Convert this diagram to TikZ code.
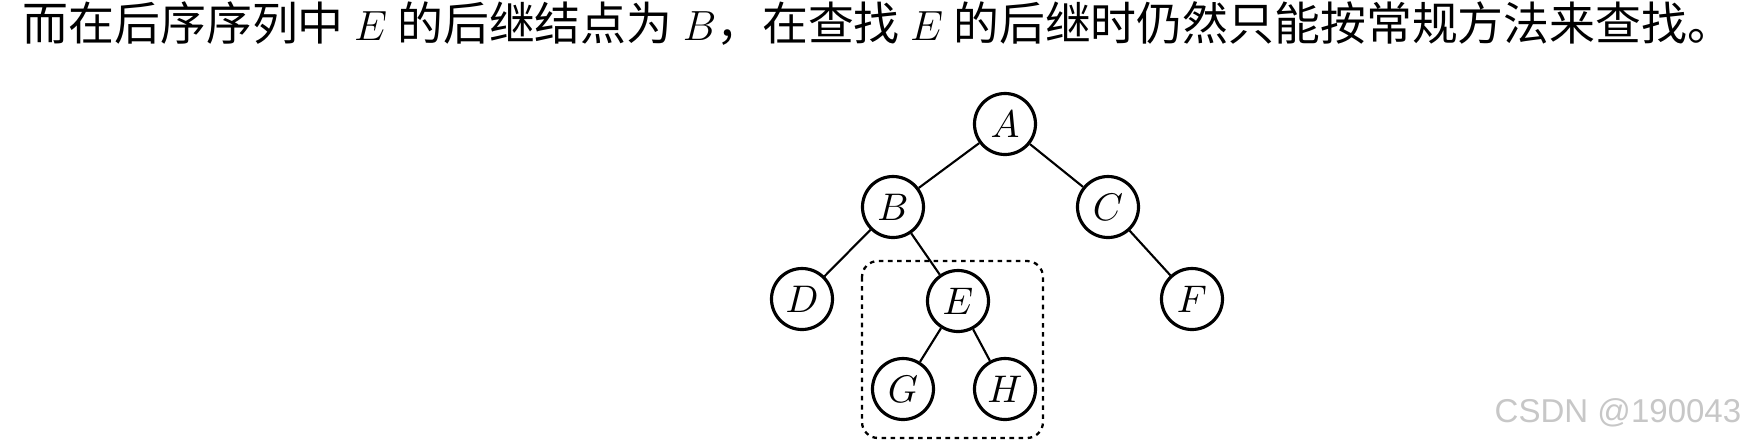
\documentclass[tikz,border=0pt]{standalone}
\usepackage{fontspec}
\newfontfamily\cjkfont{Noto Sans CJK SC}
\newfontfamily\wmfont{Liberation Sans}
\usetikzlibrary{positioning}

\begin{document}
\begin{tikzpicture}[
  vertex/.style={draw, circle, line width=0.9pt, minimum size=0.61cm, inner sep=0pt, font=\fontsize{11pt}{13pt}\selectfont},
  link/.style={semithick},
  subtree/.style={draw, rounded corners=0.16cm, line width=0.65pt, dash pattern=on 1.3pt off 1.3pt},
  caption/.style={font=\cjkfont\fontsize{13.05pt}{16pt}\selectfont, inner sep=0pt},
  wmark/.style={font=\wmfont\fontsize{9.4pt}{11pt}\selectfont, text=black!22, inner sep=0pt}
]
\useasboundingbox (0,0) rectangle (17.51,-4.41);

\node[caption, anchor=base west] (line) at (0.22,-0.40) {而在后序序列中 $E$ 的后继结点为 $B$，在查找 $E$ 的后继时仍然只能按常规方法来查找。};

% the tree
\node[vertex] (A) at (10.05,-1.24) {$A$};
\node[vertex] (B) at (8.93,-2.07) {$B$};
\node[vertex] (C) at (11.08,-2.07) {$C$};
\node[vertex] (D) at (8.02,-2.99) {$D$};
\node[vertex] (E) at (9.58,-3.01) {$E$};
\node[vertex] (F) at (11.92,-2.99) {$F$};
\node[vertex] (G) at (9.03,-3.89) {$G$};
\node[vertex] (H) at (10.05,-3.89) {$H$};

\draw[link] (A) -- (B);
\draw[link] (A) -- (C);
\draw[link] (B) -- (D);
\draw[link] (B) -- (E);
\draw[link] (C) -- (F);
\draw[link] (E) -- (G);
\draw[link] (E) -- (H);

% subtree of E
\draw[subtree] (8.62,-2.61) rectangle (10.43,-4.38);

\node[wmark, anchor=base east] (csdn) at (17.42,-4.22) {CSDN @190043};

\end{tikzpicture}
\end{document}
